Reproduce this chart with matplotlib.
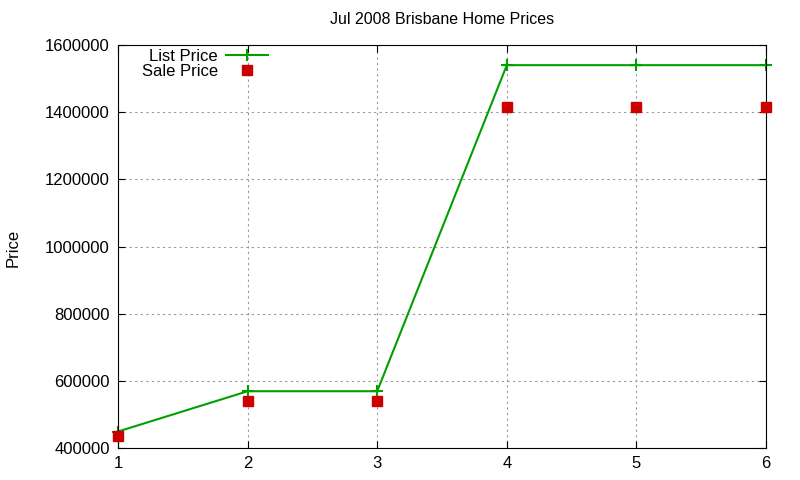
import matplotlib.pyplot as plt

plt.rcParams['font.family'] = ['Liberation Sans', 'DejaVu Sans']

# data
items = [1, 2, 3, 4, 5, 6]
list_price = [449000, 569000, 569000, 1540000, 1540000, 1540000]
sale_price = [437000, 540000, 540000, 1415000, 1415000, 1415000]
y_ticks = [400000, 600000, 800000, 1000000, 1200000, 1400000, 1600000]

fig = plt.figure(figsize=(8, 4.8), dpi=100)
ax = fig.add_axes([0.1475, 0.0667, 0.81, 0.8395])

ax.plot(items, list_price, color='#00a000', linewidth=1.5, marker='+',
        markersize=8, markeredgewidth=1.5, label='List Price', clip_on=False)
ax.plot(items, sale_price, linestyle='none', color='#cc0000', marker='s',
        markersize=7, label='Sale Price', clip_on=False, zorder=3)

ax.set_xlim(1, 6)
ax.set_ylim(400000, 1600000)
ax.set_xticks(items)
ax.set_yticks(y_ticks)
ax.set_yticklabels([str(v) for v in y_ticks])
ax.tick_params(direction='in', top=True, right=True, labelsize=12, length=5, pad=6)
ax.grid(True, linestyle=(0, (2, 3)), color='#999999', linewidth=0.8)

ax.set_title('Jul 2008 Brisbane Home Prices', fontsize=11.5, pad=15)
fig.text(0.016, 0.483, 'Price', rotation=90, fontsize=12, va='center', ha='center')

ax.legend(loc='upper left', bbox_to_anchor=(0.021, 1.015), frameon=False,
          markerfirst=False, fontsize=12, handlelength=2.5,
          labelspacing=0.0, borderaxespad=0.2, handletextpad=0.5)

plt.savefig('out.png')
